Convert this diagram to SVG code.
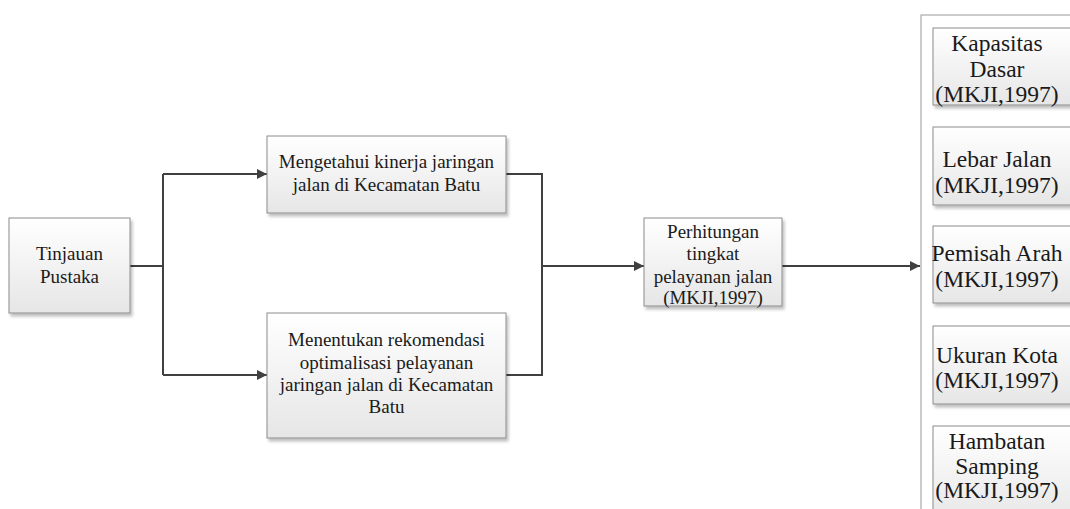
<svg xmlns="http://www.w3.org/2000/svg" width="1070" height="509" viewBox="0 0 1070 509">
<defs>
<linearGradient id="g" x1="0" y1="0" x2="0" y2="1">
<stop offset="0" stop-color="#ffffff"/>
<stop offset="1" stop-color="#e6e6e6"/>
</linearGradient>
<filter id="sh" x="-10%" y="-10%" width="130%" height="130%">
<feDropShadow dx="2" dy="3" stdDeviation="1.5" flood-color="#000" flood-opacity="0.25"/>
</filter>
<marker id="ah" viewBox="0 0 10 10" refX="10" refY="5" markerWidth="5" markerHeight="5" orient="auto" markerUnits="strokeWidth">
<path d="M0,0 L10,5 L0,10 Z" fill="#404040"/>
</marker>
</defs>
<style>
.box{fill:url(#g);stroke:#8c8c8c;stroke-width:1;filter:url(#sh)}
.t{font-family:"Liberation Serif","Times New Roman",serif;font-size:19px;fill:#1a1a1a;text-anchor:middle}
.r{font-size:23.5px}
.c{fill:none;stroke:#404040;stroke-width:2}
</style>
<rect width="1070" height="509" fill="#fff"/>
<g id="panel">
<rect x="921" y="15" width="160" height="510" fill="#fff" stroke="#9a9a9a" stroke-width="1"/>
</g>
<g id="connectors">
<path class="c" d="M130,266 H163 M163,174 V375"/>
<path class="c" d="M163,174 H267" marker-end="url(#ah)"/>
<path class="c" d="M163,375 H267" marker-end="url(#ah)"/>
<path class="c" d="M506,174 H542 V375 H506"/>
<path class="c" d="M542,266 H644" marker-end="url(#ah)"/>
<path class="c" d="M782,266 H920" marker-end="url(#ah)"/>
</g>
<g id="tinjauan">
<rect class="box" x="9" y="218" width="121" height="95"/>
<text class="t" x="69.5" y="260">Tinjauan</text>
<text class="t" x="69.5" y="283">Pustaka</text>
</g>
<g id="mengetahui">
<rect class="box" x="267" y="136" width="239" height="77"/>
<text class="t" x="386.5" y="168">Mengetahui kinerja jaringan</text>
<text class="t" x="386.5" y="191">jalan di Kecamatan Batu</text>
</g>
<g id="menentukan">
<rect class="box" x="267" y="313" width="239" height="125"/>
<text class="t" x="386.5" y="346">Menentukan rekomendasi</text>
<text class="t" x="386.5" y="368.5">optimalisasi pelayanan</text>
<text class="t" x="386.5" y="391">jaringan jalan di Kecamatan</text>
<text class="t" x="386.5" y="413">Batu</text>
</g>
<g id="perhitungan">
<rect class="box" x="644" y="218" width="138" height="88"/>
<text class="t" x="713" y="238">Perhitungan</text>
<text class="t" x="713" y="260">tingkat</text>
<text class="t" x="713" y="282.5">pelayanan jalan</text>
<text class="t" x="713" y="304">(MKJI,1997)</text>
</g>
<g id="kapasitas">
<rect class="box" x="933" y="28" width="145" height="77"/>
<text class="t r" x="997" y="51">Kapasitas</text>
<text class="t r" x="997" y="77">Dasar</text>
<text class="t r" x="997" y="102">(MKJI,1997)</text>
</g>
<g id="lebar">
<rect class="box" x="933" y="127" width="145" height="78"/>
<text class="t r" x="997" y="167">Lebar Jalan</text>
<text class="t r" x="997" y="193">(MKJI,1997)</text>
</g>
<g id="pemisah">
<rect class="box" x="933" y="226" width="145" height="77"/>
<text class="t r" x="997" y="261">Pemisah Arah</text>
<text class="t r" x="997" y="287">(MKJI,1997)</text>
</g>
<g id="ukuran">
<rect class="box" x="933" y="326" width="145" height="78"/>
<text class="t r" x="997" y="363">Ukuran Kota</text>
<text class="t r" x="997" y="388">(MKJI,1997)</text>
</g>
<g id="hambatan">
<rect class="box" x="933" y="426" width="145" height="100"/>
<text class="t r" x="997" y="449">Hambatan</text>
<text class="t r" x="997" y="474">Samping</text>
<text class="t r" x="997" y="498">(MKJI,1997)</text>
</g>
</svg>
